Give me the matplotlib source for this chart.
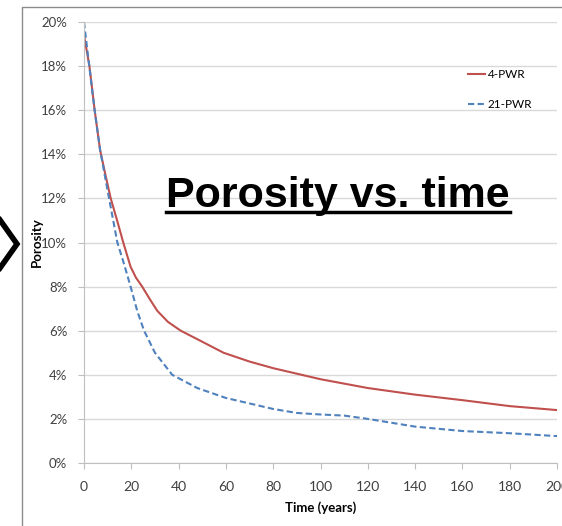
import matplotlib
matplotlib.use("Agg")
import matplotlib.pyplot as plt
from matplotlib.lines import Line2D

# data (time in years, porosity in %)
t_4pwr = [0, 2.3, 4.5, 6.8, 9, 11.3, 14, 16.6, 19.7, 22, 24.6, 28, 31, 35.5, 40.9, 50, 59, 70, 80, 100, 120, 140, 160, 180, 200]
p_4pwr = [19.4, 18.0, 16.0, 14.2, 13.1, 12.0, 11.0, 10.0, 8.9, 8.4, 8.0, 7.4, 6.9, 6.4, 6.0, 5.5, 5.0, 4.6, 4.3, 3.8, 3.4, 3.1, 2.85, 2.58, 2.4]
t_21pwr = [0, 2, 4.5, 6.8, 10.6, 14.1, 17, 19.7, 22.5, 25.4, 30, 37.3, 47.9, 60, 70, 80, 90, 100, 110, 120, 140, 160, 180, 200]
p_21pwr = [20.0, 18.2, 16.0, 14.2, 12.0, 10.0, 9.0, 8.0, 6.9, 6.0, 5.0, 4.0, 3.4, 2.95, 2.7, 2.45, 2.27, 2.2, 2.15, 2.0, 1.65, 1.45, 1.35, 1.22]
x_ticks = [0, 20, 40, 60, 80, 100, 120, 140, 160, 180, 200]
y_ticks = [0, 2, 4, 6, 8, 10, 12, 14, 16, 18, 20]

font = ["Lato", "DejaVu Sans"]
red = "#c0504d"
blue = "#4f81bd"

fig = plt.figure(figsize=(5.62, 5.26), dpi=100)
ax = fig.add_axes([84 / 562, 63 / 526, 473 / 562, 441 / 526])

ax.plot(t_4pwr, p_4pwr, color=red, lw=1.5, label="4-PWR")
ax.plot(t_21pwr, p_21pwr, color=blue, lw=1.5, ls=(0, (3, 1.6)), label="21-PWR")

ax.set_xlim(0, 200)
ax.set_ylim(0, 20)
ax.set_xticks(x_ticks)
ax.set_yticks(y_ticks)
ax.set_xticklabels([str(v) for v in x_ticks], family=font, fontsize=10, color="#404040")
ax.set_yticklabels([f"{v}%" for v in y_ticks], family=font, fontsize=9.5, color="#404040")
ax.tick_params(axis="x", length=4, color="#bfbfbf", pad=9)
ax.tick_params(axis="y", length=4, color="#bfbfbf", pad=8)
ax.grid(axis="y", color="#d9d9d9", lw=1)
ax.set_axisbelow(True)
for side in ["top", "right"]:
    ax.spines[side].set_visible(False)
for side in ["left", "bottom"]:
    ax.spines[side].set_color("#bfbfbf")

ax.set_xlabel("Time (years)", family=font, fontsize=9.5, fontweight="bold", labelpad=6)
ax.set_ylabel("Porosity", family=font, fontsize=9.5, fontweight="bold", labelpad=-1)

leg = ax.legend(loc="upper right", bbox_to_anchor=(0.97, 0.917), frameon=False,
                prop={"family": font, "size": 8.5}, handlelength=1.5,
                handletextpad=0.2, labelspacing=1.6)

# big underlined title inside the plot
title = fig.text(338 / 562, 1 - 207 / 526, "Porosity vs. time", family="Liberation Sans",
                 fontsize=31, fontweight="bold", ha="center", va="baseline")
fig.canvas.draw()
bb = title.get_window_extent().transformed(fig.transFigure.inverted())
y_ul = 1 - 212 / 526
fig.add_artist(Line2D([bb.x0, bb.x1], [y_ul, y_ul], color="black", lw=2.5))

# slide frame and chevron on the left
fig.add_artist(Line2D([22 / 562, 22 / 562, 1.0], [0, 1 - 7 / 526, 1 - 7 / 526], color="#8c8c8c", lw=1))
fig.add_artist(Line2D([0, 17 / 562, 0], [1 - 220 / 526, 1 - 244 / 526, 1 - 268 / 526],
                      color="black", lw=4, solid_joinstyle="miter"))

fig.savefig("out.png", dpi=100)
